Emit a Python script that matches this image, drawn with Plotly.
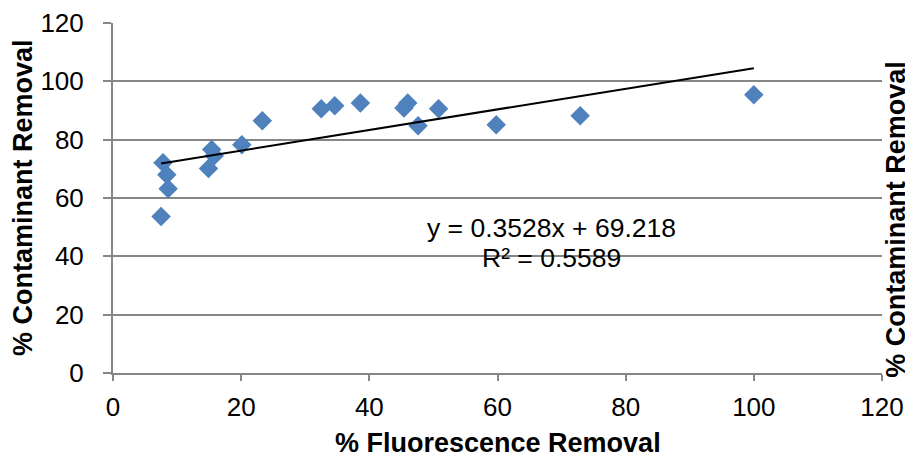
import plotly.graph_objects as go

# Fluorescence removal vs contaminant removal (%)
fluorescence_removal = [7.5, 7.8, 8.4, 8.6, 14.9, 15.4, 15.8, 20.1, 23.3, 32.5,
                        34.6, 38.6, 45.4, 46.0, 47.6, 50.8, 59.8, 72.9, 100.0]
contaminant_removal = [53.7, 72.1, 68.0, 63.2, 70.1, 76.6, 74.5, 78.3, 86.5, 90.6,
                       91.6, 92.6, 90.9, 92.6, 84.8, 90.6, 85.1, 88.2, 95.4]

# Linear trendline reported for the data
slope = 0.3528
intercept = 69.218
r_squared = 0.5589

x_ticks = [0, 20, 40, 60, 80, 100, 120]
y_ticks = [0, 20, 40, 60, 80, 100, 120]

FONT = "Liberation Sans, Arial, sans-serif"
GRID = "#868686"

x_fit = [min(fluorescence_removal), max(fluorescence_removal)]
y_fit = [slope * v + intercept for v in x_fit]

fig = go.Figure()
fig.add_trace(go.Scatter(
    x=fluorescence_removal, y=contaminant_removal, mode="markers",
    marker=dict(symbol="diamond", size=15, color="#4F81BD",
                line=dict(width=0)),
    showlegend=False, cliponaxis=False,
))
fig.add_trace(go.Scatter(
    x=x_fit, y=y_fit, mode="lines",
    line=dict(color="black", width=2), showlegend=False,
))

fig.add_annotation(x=68.5, y=49.8, xref="x", yref="y",
                   text=f"y = {slope}x + {intercept}", showarrow=False,
                   font=dict(family=FONT, size=26.5, color="black"))
fig.add_annotation(x=68.5, y=39.4, xref="x", yref="y",
                   text=f"R² = {r_squared}", showarrow=False,
                   font=dict(family=FONT, size=26.5, color="black"))

title_font = dict(family=FONT, size=27, color="black")
# axis titles
fig.add_annotation(x=0.5, y=-0.2, xref="paper", yref="paper",
                   text="<b>% Fluorescence Removal</b>", showarrow=False,
                   xanchor="center", yanchor="middle", font=title_font)
fig.add_annotation(x=-0.117, y=0.5, xref="paper", yref="paper",
                   text="<b>% Contaminant Removal</b>", textangle=-90,
                   showarrow=False, xanchor="center", yanchor="middle",
                   font=title_font)
# secondary axis title at the right edge
fig.add_annotation(x=1.018, y=0.44, xref="paper", yref="paper",
                   text="<b>% Contaminant Removal</b>", textangle=-90,
                   showarrow=False, xanchor="center", yanchor="middle",
                   font=title_font)

fig.update_layout(
    width=905, height=454,
    margin=dict(l=113, r=23, t=23, b=81, autoexpand=False),
    paper_bgcolor="white", plot_bgcolor="white",
    font=dict(family=FONT, size=26, color="black"),
    xaxis=dict(
        range=[0, 120], tickvals=x_ticks, ticktext=[str(v) for v in x_ticks],
        showgrid=False, zeroline=False,
        showline=True, linecolor=GRID, linewidth=2,
        ticks="outside", ticklen=6, tickwidth=2, tickcolor=GRID,
        tickfont=dict(size=26), ticklabelstandoff=4,
    ),
    yaxis=dict(
        range=[0, 120], tickvals=y_ticks, ticktext=[str(v) for v in y_ticks],
        showgrid=True, gridcolor=GRID, gridwidth=1.5, zeroline=False,
        showline=True, linecolor=GRID, linewidth=2,
        ticks="outside", ticklen=8, tickwidth=2, tickcolor=GRID,
        tickfont=dict(size=26), ticklabelstandoff=14,
    ),
)

fig.write_html("out.html")
